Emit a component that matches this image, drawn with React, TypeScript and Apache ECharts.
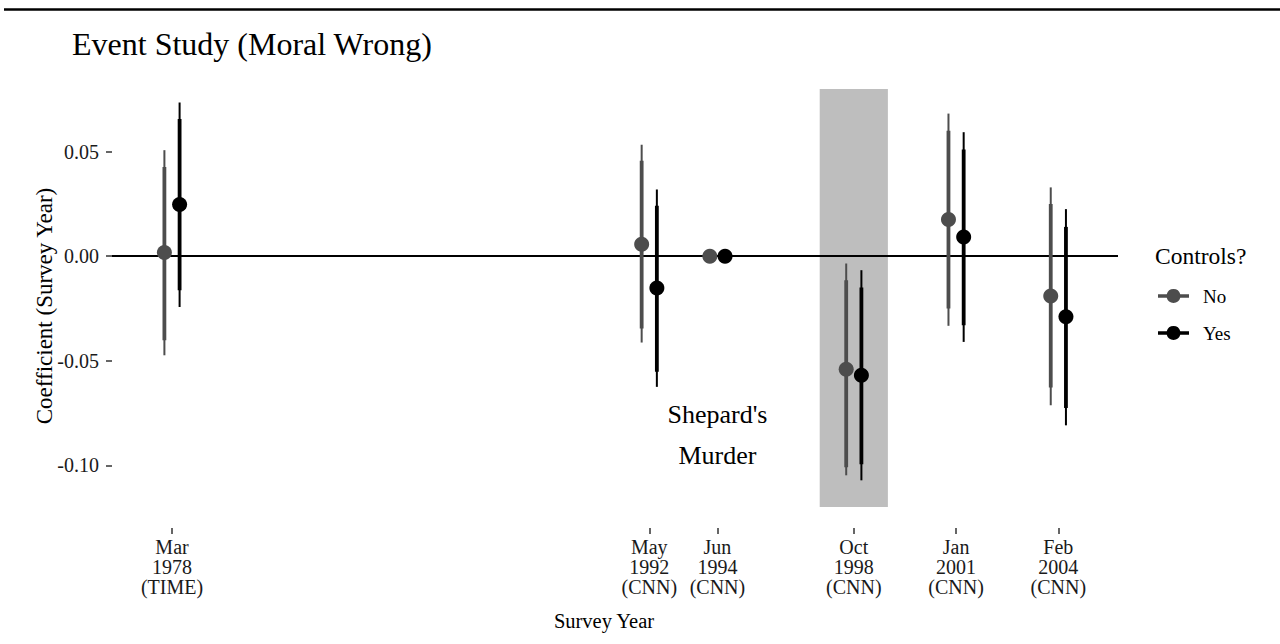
import React, { useEffect, useRef } from "react";
import * as echarts from "echarts";

// ---- Data ----
const surveyYears = [1978, 1992, 1994, 1998, 2001, 2004];
const surveyMonths = ["Mar", "May", "Jun", "Oct", "Jan", "Feb"];
const surveySources = ["(TIME)", "(CNN)", "(CNN)", "(CNN)", "(CNN)", "(CNN)"];

// Controls? = No
const noEst = [0.0018, 0.0057, 0, -0.0541, 0.0175, -0.0191];
const noLo95 = [-0.0474, -0.0413, 0, -0.1048, -0.0333, -0.0713];
const noHi95 = [0.0507, 0.0533, 0, -0.0035, 0.0682, 0.0329];
const noLo90 = [-0.0402, -0.0346, 0, -0.101, -0.025, -0.0628];
const noHi90 = [0.0427, 0.0456, 0, -0.0115, 0.06, 0.0249];

// Controls? = Yes
const yesEst = [0.0247, -0.0152, 0, -0.0569, 0.0092, -0.029];
const yesLo95 = [-0.0243, -0.0625, 0, -0.1072, -0.041, -0.0809];
const yesHi95 = [0.0735, 0.0319, 0, -0.0067, 0.0593, 0.0225];
const yesLo90 = [-0.0163, -0.0553, 0, -0.0995, -0.033, -0.0726];
const yesHi90 = [0.0656, 0.0241, 0, -0.015, 0.051, 0.014];

const yTicks = [-0.1, -0.05, 0, 0.05];
const eventWindowX = [1997, 1999];
const eventWindowY = [-0.12, 0.08];
const annotationPos = [1994, -0.0855];
const annotationText = "Shepard's\nMurder";

const FONT = '"Liberation Serif", "Times New Roman", serif';
const LEGEND_ICON =
  "path://M0,5.25L8.75,5.25A7,7,0,0,1,22.25,5.25L31,5.25L31,8.75L22.25,8.75A7,7,0,0,1,8.75,8.75L0,8.75Z";

function buildRows(est: number[], lo95: number[], hi95: number[], lo90: number[], hi90: number[]) {
  return surveyYears.map((yr, i) => [yr, est[i], lo95[i], hi95[i], lo90[i], hi90[i]]);
}

function makeRender(offset: number) {
  return (params: any, api: any) => {
    const x = api.value(0);
    const c = api.coord([x, api.value(1)]);
    const l95 = api.coord([x, api.value(2)]);
    const h95 = api.coord([x, api.value(3)]);
    const l90 = api.coord([x, api.value(4)]);
    const h90 = api.coord([x, api.value(5)]);
    const px = c[0] + offset;
    const color = api.visual("color");
    return {
      type: "group",
      children: [
        { type: "line", shape: { x1: px, y1: l95[1], x2: px, y2: h95[1] }, style: { stroke: color, lineWidth: 2 } },
        { type: "line", shape: { x1: px, y1: l90[1], x2: px, y2: h90[1] }, style: { stroke: color, lineWidth: 3.8 } },
        { type: "circle", shape: { cx: px, cy: c[1], r: 7.5 }, style: { fill: color } },
      ],
    };
  };
}

export default function App() {
  const ref = useRef<HTMLDivElement>(null);
  useEffect(() => {
    if (!ref.current) return;
    const chart = echarts.init(ref.current, null, { renderer: "svg" });
    const option: any = {
      animation: false,
      backgroundColor: "#ffffff",
      textStyle: { fontFamily: FONT },
      title: [
        {
          text: "Event Study (Moral Wrong)",
          left: 72,
          top: 28,
          padding: 0,
          textStyle: { fontFamily: FONT, fontSize: 32, lineHeight: 32, fontWeight: "normal", color: "#000" },
        },
        {
          text: "Controls?",
          left: 1155,
          top: 244,
          padding: 0,
          textStyle: { fontFamily: FONT, fontSize: 23.5, lineHeight: 24, fontWeight: "normal", color: "#000" },
        },
      ],
      legend: {
        data: ["No", "Yes"],
        orient: "vertical",
        left: 1158,
        top: 286,
        padding: 0,
        itemWidth: 31,
        itemHeight: 14,
        itemGap: 17,
        icon: LEGEND_ICON,
        selectedMode: false,
        textStyle: { fontFamily: FONT, fontSize: 19, lineHeight: 20, color: "#000", padding: [0, 0, 0, 9] },
      },
      graphic: [
        { type: "line", shape: { x1: 4, y1: 9.5, x2: 1280, y2: 9.5 }, style: { stroke: "#000", lineWidth: 2.5 } },
      ],
      grid: { left: 112, right: 162, top: 68, bottom: 116, containLabel: false },
      xAxis: {
        type: "value",
        min: 1976.24,
        max: 2005.75,
        name: "Survey Year",
        nameLocation: "middle",
        nameGap: 82,
        nameMoveOverlap: false,
        nameTextStyle: { fontFamily: FONT, fontSize: 20.5, lineHeight: 21, color: "#000", padding: [0, 22, 0, 0] },
        axisLine: { show: false, onZero: false },
        splitLine: { show: false },
        axisTick: { show: true, length: 6, customValues: surveyYears, lineStyle: { color: "#333", width: 1.5 } },
        axisLabel: {
          customValues: surveyYears,
          margin: 9,
          fontFamily: FONT,
          fontSize: 20,
          lineHeight: 20,
          color: "#1a1a1a",
          formatter: (v: number) => {
            const i = surveyYears.indexOf(Math.round(v));
            if (i < 0) return "";
            return surveyMonths[i] + "\n" + surveyYears[i] + "\n" + surveySources[i];
          },
        },
      },
      yAxis: {
        type: "value",
        min: -0.13,
        max: 0.09,
        name: "Coefficient (Survey Year)",
        nameLocation: "middle",
        nameGap: 56,
        nameMoveOverlap: false,
        nameTextStyle: { fontFamily: FONT, fontSize: 23, lineHeight: 23, color: "#000", padding: [0, 16, 0, 0] },
        axisLine: { show: false, onZero: false },
        splitLine: { show: false },
        axisTick: { show: true, length: 6, customValues: yTicks, lineStyle: { color: "#333", width: 1.5 } },
        axisLabel: {
          customValues: yTicks,
          margin: 13,
          fontFamily: FONT,
          fontSize: 20,
          color: "#1a1a1a",
          formatter: (v: number) => v.toFixed(2),
        },
      },
      series: [
        {
          name: "bg",
          type: "line",
          data: [],
          z: 1,
          silent: true,
          markArea: {
            silent: true,
            itemStyle: { color: "#bebebe" },
            data: [[{ coord: [eventWindowX[0], eventWindowY[0]] }, { coord: [eventWindowX[1], eventWindowY[1]] }]],
          },
          markLine: {
            silent: true,
            symbol: ["none", "none"],
            label: { show: false },
            lineStyle: { color: "#000", width: 2, type: "solid" },
            data: [{ yAxis: 0 }],
          },
          markPoint: {
            silent: true,
            symbol: "circle",
            symbolSize: 0,
            data: [
              {
                coord: annotationPos,
                label: {
                  show: true,
                  position: "inside",
                  formatter: annotationText,
                  fontFamily: FONT,
                  fontSize: 26,
                  lineHeight: 41,
                  color: "#000",
                },
              },
            ],
          },
        },
        {
          name: "No",
          type: "custom",
          z: 5,
          itemStyle: { color: "#4d4d4d" },
          renderItem: makeRender(-7.6),
          encode: { x: 0, y: 1 },
          data: buildRows(noEst, noLo95, noHi95, noLo90, noHi90),
        },
        {
          name: "Yes",
          type: "custom",
          z: 6,
          itemStyle: { color: "#000000" },
          renderItem: makeRender(7.6),
          encode: { x: 0, y: 1 },
          data: buildRows(yesEst, yesLo95, yesHi95, yesLo90, yesHi90),
        },
      ],
    };
    chart.setOption(option);
    return () => chart.dispose();
  }, []);
  return <div ref={ref} style={{ position: "absolute", left: 0, top: 0, width: 1280, height: 644 }} />;
}
